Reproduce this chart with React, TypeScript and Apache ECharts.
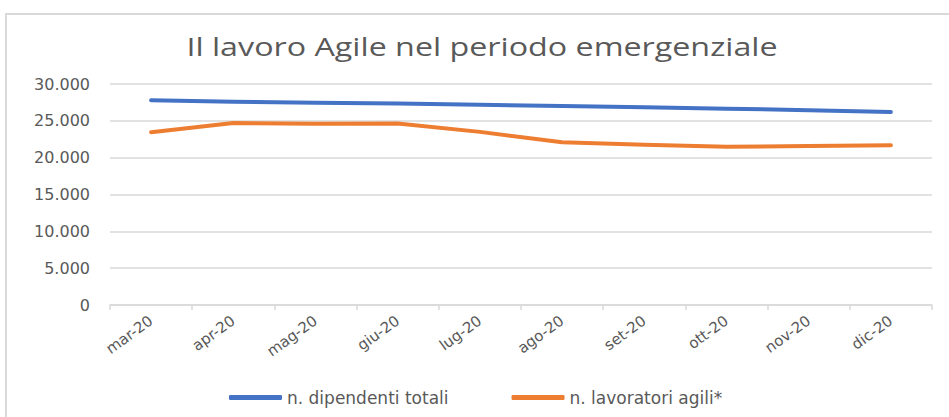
import React, { useEffect, useRef } from "react";
import * as echarts from "echarts";

const categories = ["mar-20", "apr-20", "mag-20", "giu-20", "lug-20", "ago-20", "set-20", "ott-20", "nov-20", "dic-20"];
const dipendentiTotali = [27800, 27580, 27450, 27350, 27200, 27000, 26830, 26650, 26450, 26200];
const lavoratoriAgili = [23450, 24700, 24620, 24650, 23500, 22100, 21750, 21480, 21580, 21700];
const seriesNames = ["n. dipendenti totali", "n. lavoratori agili*"];
const titleText = "Il lavoro Agile nel periodo emergenziale";

const TITLE_FONT = "'Open Sans', 'Noto Sans', sans-serif";
const FONT = "'DejaVu Sans', 'Open Sans', sans-serif";

function fmt(v: number): string {
  return String(Math.round(v)).replace(/\B(?=(\d{3})+(?!\d))/g, ".");
}

export default function App() {
  const ref = useRef<HTMLDivElement>(null);
  useEffect(() => {
    if (!ref.current) return;
    const chart = echarts.init(ref.current, undefined, { renderer: "svg" });
    chart.setOption({
      animation: false,
      backgroundColor: "#ffffff",
      graphic: [
        {
          type: "rect",
          shape: { x: 6, y: 14, width: 1000, height: 500 },
          style: { fill: "none", stroke: "#d9d9d9", lineWidth: 2 },
          silent: true,
          z: -10,
        },
        {
          type: "text",
          x: 482,
          y: 46,
          scaleX: 1.29,
          style: {
            text: titleText,
            fontSize: 25,
            fontFamily: TITLE_FONT,
            fill: "#595959",
            textAlign: "center",
            textVerticalAlign: "middle",
          },
        },
      ],
      legend: {
        data: seriesNames,
        left: 224,
        top: 384,
        icon: "roundRect",
        itemWidth: 53,
        itemHeight: 5,
        itemGap: 63,
        textStyle: { fontSize: 17, fontFamily: FONT, color: "#595959" },
      },
      grid: { left: 110, right: 17, top: 84, bottom: 112, containLabel: false },
      xAxis: {
        type: "category",
        data: categories,
        boundaryGap: true,
        axisLine: { show: true, lineStyle: { color: "#d9d9d9", width: 1.5 } },
        axisTick: { show: true, alignWithLabel: false, length: 5, lineStyle: { color: "#d9d9d9", width: 1.5 } },
        axisLabel: {
          rotate: 36,
          margin: 14,
          fontSize: 15,
          fontFamily: FONT,
          color: "#595959",
          interval: 0,
        },
      },
      yAxis: {
        type: "value",
        min: 0,
        max: 30000,
        interval: 5000,
        axisLine: { show: false },
        axisTick: { show: false },
        splitLine: { lineStyle: { color: "#d9d9d9", width: 1.5 } },
        axisLabel: {
          formatter: (v: number) => fmt(v),
          fontSize: 16,
          fontFamily: FONT,
          color: "#595959",
          margin: 20,
        },
      },
      series: [
        {
          name: seriesNames[0],
          type: "line",
          data: dipendentiTotali,
          showSymbol: false,
          symbol: "none",
          lineStyle: { color: "#4472C4", width: 4, cap: "round", join: "round" },
          itemStyle: { color: "#4472C4" },
        },
        {
          name: seriesNames[1],
          type: "line",
          data: lavoratoriAgili,
          showSymbol: false,
          symbol: "none",
          lineStyle: { color: "#ED7D31", width: 4, cap: "round", join: "round" },
          itemStyle: { color: "#ED7D31" },
        },
      ],
    });
    return () => chart.dispose();
  }, []);
  return (
    <div
      ref={ref}
      style={{ position: "absolute", left: 0, top: 0, width: 949, height: 417 }}
    />
  );
}
